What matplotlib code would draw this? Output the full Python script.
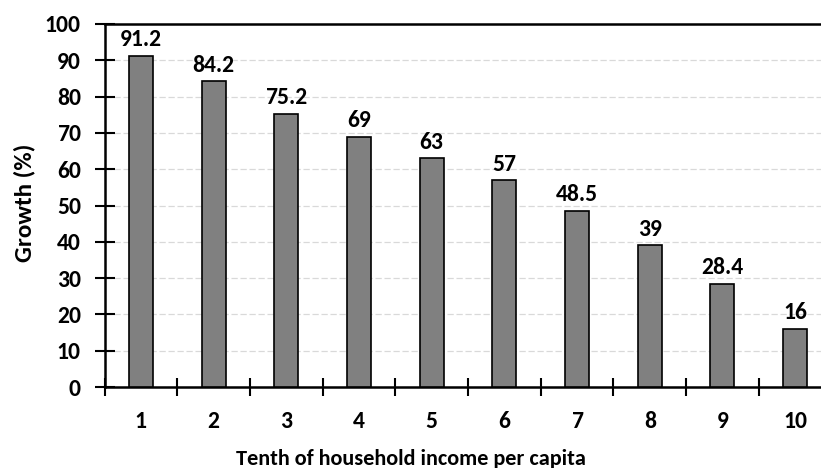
import matplotlib.pyplot as plt
import numpy as np

deciles = ["1", "2", "3", "4", "5", "6", "7", "8", "9", "10"]
growth = [91.2, 84.2, 75.2, 69, 63, 57, 48.5, 39, 28.4, 16]
growth_labels = ["91.2", "84.2", "75.2", "69", "63", "57", "48.5", "39", "28.4", "16"]

plt.rcParams['font.family'] = ['Carlito', 'DejaVu Sans']
plt.rcParams['font.weight'] = 'bold'

fig = plt.figure(figsize=(8.21, 4.68), dpi=100)
W, H = 821, 468
# plot area runs slightly past the right edge of the canvas
ax = fig.add_axes([104.5 / W, (H - 387) / H, 727 / W, 363 / H])

x = np.arange(len(deciles))
bars = ax.bar(x, growth, width=0.33, color="#808080", edgecolor="black",
              linewidth=1.2, zorder=3)

for b, lab in zip(bars, growth_labels):
    ax.annotate(lab, (b.get_x() + b.get_width() / 2, b.get_height()),
                xytext=(0, 4), textcoords="offset points",
                ha="center", va="bottom", fontsize=17, fontweight="bold")

ax.set_xlim(-0.5, len(deciles) - 0.5)
ax.set_ylim(0, 100)
ax.set_yticks(np.arange(0, 101, 10))
ax.set_xticks(x)
ax.set_xticklabels(deciles)
ax.set_xticks(np.arange(-0.5, len(deciles), 1), minor=True)

ax.tick_params(axis="x", which="major", length=0, pad=17, labelsize=17)
ax.tick_params(axis="x", which="minor", direction="inout", length=13, width=1.5)
ax.tick_params(axis="y", direction="inout", length=14, width=1.5, labelsize=17, pad=10)
for lab in ax.get_xticklabels() + ax.get_yticklabels():
    lab.set_fontweight("bold")

ax.grid(axis="y", linestyle=(0, (5, 2.2)), color="#d9d9d9", linewidth=0.9, zorder=0)
ax.set_axisbelow(True)

for side in ["left", "bottom", "top"]:
    ax.spines[side].set_linewidth(1.8)
ax.spines["right"].set_visible(False)

fig.text(411 / W, 1 - 465 / H, "Tenth of household income per capita",
         ha="center", va="baseline", fontsize=16, fontweight="bold")
fig.text(24 / W, 1 - 203 / H, "Growth (%)", rotation=90,
         ha="center", va="center", fontsize=18, fontweight="bold")

fig.savefig("out.png", dpi=100)
